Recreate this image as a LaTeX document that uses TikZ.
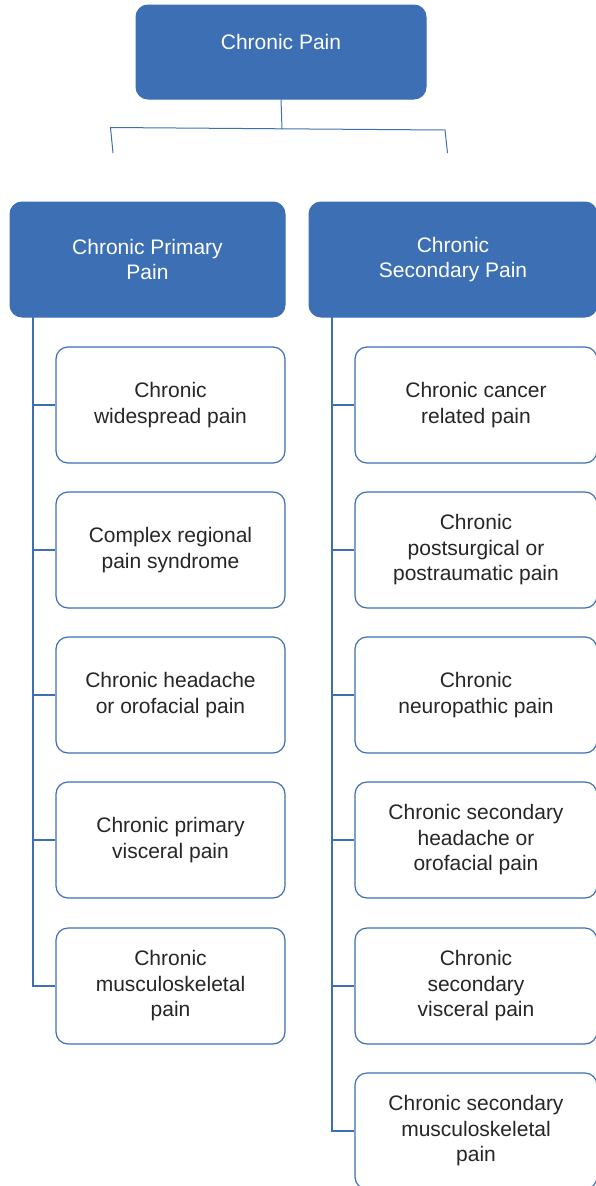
\documentclass[tikz,border=0pt]{standalone}
\usepackage{fontspec}
\setmainfont{Liberation Sans}
\definecolor{cblue}{RGB}{61,111,180}
\definecolor{ctext}{RGB}{38,38,38}
\begin{document}
\begin{tikzpicture}[x=1pt,y=-1pt,
  txt/.style={align=center, font=\fontsize{21}{25.5}\selectfont},
  head/.style={txt, draw=cblue, fill=cblue, rounded corners=12pt, line width=1pt, text=white, inner sep=0pt},
  leaf/.style={txt, draw=cblue, fill=white, rounded corners=12pt, line width=1.2pt, text=ctext, inner sep=0pt, minimum height=116pt},
  lleaf/.style={leaf, minimum width=229pt},
  rleaf/.style={leaf, minimum width=242pt},
  link/.style={draw=cblue, line width=1.3pt},
  brk/.style={draw=cblue, line width=1pt}]
\useasboundingbox (0,0) rectangle (596,1186);
% top
\node[head, minimum width=290pt, minimum height=94pt] (top) at (281,52) {};
\node[txt, text=white, inner sep=0pt] (toptext) at (281,42) {Chronic Pain};
% bracket
\coordinate (bl) at (113,153);
\coordinate (blc) at (110.5,127.5);
\coordinate (bm) at (282,128.8);
\coordinate (brc) at (445,130);
\coordinate (br) at (447.5,153);
\draw[brk] (top.south) -- (bm);
\draw[brk] (bl) -- (blc) -- (bm) -- (brc) -- (br);
% level 2
\node[head, minimum width=275pt, minimum height=115pt] (prim) at (147.5,259.5) {Chronic Primary\\Pain};
\node[head, minimum width=288pt, minimum height=115pt] (sec) at (453,259.5) {Chronic\\Secondary Pain};
% left leaves
\node[lleaf] (L1) at (170.5,405) {Chronic\\widespread pain};
\node[lleaf] (L2) at (170.5,550) {Complex regional\\pain syndrome};
\node[lleaf] (L3) at (170.5,695) {Chronic headache\\or orofacial pain};
\node[lleaf] (L4) at (170.5,840) {Chronic primary\\visceral pain};
\node[lleaf] (L5) at (170.5,986) {Chronic\\musculoskeletal\\pain};
% right leaves
\node[rleaf] (R1) at (476,405) {Chronic cancer\\related pain};
\node[rleaf] (R2) at (476,550) {Chronic\\postsurgical or\\postraumatic pain};
\node[rleaf] (R3) at (476,695) {Chronic\\neuropathic pain};
\node[rleaf] (R4) at (476,840) {Chronic secondary\\headache or\\orofacial pain};
\node[rleaf] (R5) at (476,986) {Chronic\\secondary\\visceral pain};
\node[rleaf] (R6) at (476,1131) {Chronic secondary\\musculoskeletal\\pain};
% spines
\coordinate (ls) at (33,317);
\coordinate (rs) at (332,317);
\foreach \n in {L1,L2,L3,L4,L5} \draw[link] (ls) |- (\n.west);
\foreach \n in {R1,R2,R3,R4,R5,R6} \draw[link] (rs) |- (\n.west);
\end{tikzpicture}
\end{document}
